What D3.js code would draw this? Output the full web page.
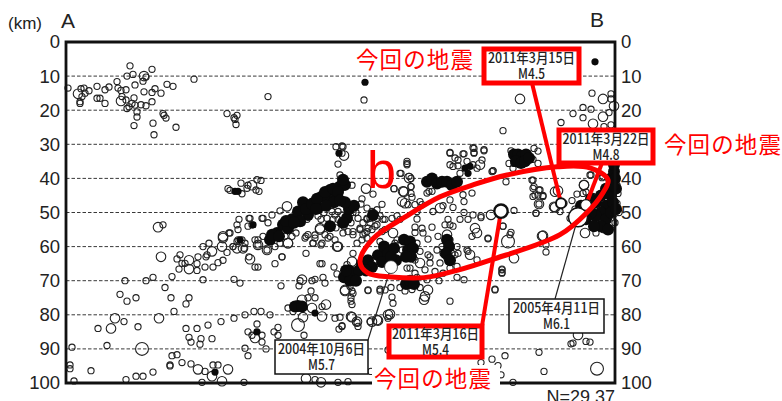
<!DOCTYPE html>
<html lang="ja">

<head>
    <meta charset="UTF-8">
    <script src='https://cdnjs.cloudflare.com/ajax/libs/d3/7.8.5/d3.min.js'></script>
    <title>Document</title>
    <style>
        html, body { margin: 0; padding: 0; background: #fff; overflow: hidden; }
        svg { display: block; }
        .tick text { font: 18.5px "Liberation Sans", sans-serif; fill: #222; }
    </style>
</head>

<body>
    <div id='plot'></div>
</body>

<script>
    // depth ticks (km)
    const depthTicks = [0, 10, 20, 30, 40, 50, 60, 70, 80, 90, 100];
    const gridDepths = [10, 20, 30, 40, 50, 60, 70, 80, 90];

    // [distance along A-B, depth km]
    const smallQuakes = [
        [2,13.5],[14,17.5],[15,13.7],[18,13.5],[16,16],[19,15],[14,18],[23,14.3],[31,16.5],[31,13],[34,16.5],[39,14],[43,13.2],[39,18],
        [51,11.6],[52,13.5],[55,14.2],[56,16],[60,17],[60,14],[61,10],[64,7],[67,9.5],[69,12.6],[68,16.4],[61,19.5],[63,19],[69,18.5],[66,18],[71,20.5],[71,22],[75,18.4],[77,11.5],[80,10.3],[78,14.6],[80,18.7],[86,17.5],[86,14.8],[89,13.7],[86,8],[95,15],[101,12.4],[107,13],[87,23.8],[88,27.2],[68,24.5],[110,25],[97,21],[98,21.5],[100,22.3],
        [128,10.9],[161,21],[168,22.2],[169,22.7],[170,24.2],[171,21.5],[202,16],[298,17],
        [97,53.6],[111,63.6],[114,62.4],[116,64.9],[119,64.9],[113,66.6],[131,65],[132,63],[131,67],[137,60],[143,59],[140,63],[141,62.4],[139,66],[147,66],[152,64.7],[157,64],[161,61.7],[163,56],[167,60],[171,53.6],[172,55],[183,51.7],[182,54],[172,58],[176,58],[179,59],[189,66],[192,66],[189,58],[186,53.6],[197,51.7],[202,53],[209,65],[216,63],[240,62],[240,57],[249,56.6],[247,59],[255,59.5],[262,57.5],[268,66],[271,68],[254,65],[256,65],[249,69.6],[257,69],[259,70.7],[246,70],[234,70],[233,71.5],[215,71.5],[174,70.7],[168,69.6],[137,69.7],[106,68.8],[99,72],[87,69],[80,70],[59,70],[54,74],[61,76],[70,75],[105,75],[123,75],[120,76.8],[108,79],[58,82],[32,84],[72,83.5],[120,84],[131,84],[142,83],[155,82],[168,81],[179,80],[188,79],[195,79],[204,80],[41,89],[6,89.5],[123,86.6],[125,88],[135,87],[134,88.6],[146,87],[106,92],[111,91.7],[116,94],[125,94.4],[104,95],[104,94.7],[87,96.8],[77,98],[70,98],[60,99],[25,96.4],[4,94.7],[4,95.8],[8,99.4],[179,89.8],[182,92],
        [191,82.7],[182,85],[186,86],[196,86],[196,88],[200,90],[212,83.7],[208,85],[212,86],[139,96.6],[147,94.7],[152,94.7],[136,99.8],[178,99.8],[249,99],[272,99.8],[282,99.6],[238,86],
        [222,78],[227,79],[242,75],[245,73],[249,75],[256,77.6],[269,81],[274,80.7],[291,82.2],[292,83.4],[276,83.2],[273,84.2],[302,72.9],[287,73.7],[285,75],[286,77],[285,76],[314,72.5],[284,71.7],[322,90.3],[305,96.6],
        [270,30.7],[276,30.5],[272,35.8],[274,39],[307,44.6],[296,46],[316,47.6],[286,42],
        [162,43],[164,43.5],[176,44.5],[175,41.4],[182,42],[191,40.4],[195,40.6],[190,43.4],[193,43.8],[181,42.9],
        [173,52],[164,56],[196,51.7],[184,51.7],[171,58.5],[178,60.5],[167,60],[192,58],[197,57],[206,50.7],[214,49.5],[242,56.5],[239,57.5],[216,63],[201,61],[192,59.5],[183,63],[256,59],[247,59],[264,57],[269,58],[259,56.5],[249,57.5],[277,56],[282,55.6],[287,55.6],[294,55],[297,56.5],[301,55.6],[302,54.6],[309,54],[317,52],[319,55],[284,47.8],[289,48],[301,48.7],[306,49.7],[311,49.2],[314,51],[301,51.7],[292,51.7],[297,53],[304,53],
        [266,49.7],[269,50.7],[272,49.7],[267,52],[272,52],[276,50.7],[261,51.7],[258,50],[255,52],[252,51],[262,54],[270,54.5],[278,54],[285,53],[290,50],[295,47.5],[241,52],[236,53],[230,56],[226,57],[219,57],[214,59],[209,60],
        [277,30.7],[276,32.6],[328,43],[335,38.5],[341,35],[341,36],[343,39.4],[345,42.4],[346,45.5],[342,47.7],[349,47.7],[354,46.8],[351,49.7],[356,47.7],[361,44.3],[363,43.8],[366,43.8],[351,51.9],[349,54.3],[349,55.9],[356,54.6],[357,56],[362,57.8],[366,54.3],[367,49.7],[377,48],[387,48.5],[384,46.3],[397,44.8],[398,46.8],[406,44.3],
        [384,32.6],[389,34],[397,32.8],[407,31],[408,32.6],[418,31.6],[384,36],[387,36.5],[392,34.6],[392,36.3],[394,38.5],[401,35],[407,36],[416,34.6],[411,37],[427,37.8],[398,50],[394,52],[402,52],[407,50.7],[415,51],[406,57],[422,57.7],[437,54],[444,56.5],[401,61],[387,54],[382,52],[379,53.6],[384,53.6],[384,58],[376,60],[372,57],[377,62],[386,62],[391,60],[392,62],[371,61],[364,63],
        [287,50],[304,51.7],[311,51.7],[301,52],[319,52],[326,51.7],[331,51],[334,52],[294,54.6],[299,56],[306,55],[311,53.6],[287,56.5],[296,58],[301,57.5],[291,59],[316,55.6],[331,58],[329,59],[314,58.5],[351,59],[354,61.4],[362,62.4],[336,61],
        [287,62],[281,65.3],[286,73],[302,72.7],[314,73],[319,72.7],[325,72],[334,72],[326,74.8],[327,76.6],[304,82],[341,66.3],[349,67.8],[346,72.6],[339,73],[354,72],[384,76],[391,69],[398,69.7],[373,70],[351,69],[361,69.7],[429,72.7],[436,66.8],[436,67.8],[322,81],[276,83.4],
        [364,64.8],[344,66.3],[359,66.8],[349,63.9],[374,64.8],[381,63.4],[389,62.4],[402,61.4],[411,63.9],[377,67.8],[369,67.3],[384,66.3],[391,65.8],
        [448,49.4],[470,50.2],[473,47.5],[498,47.3],[437,54],[445,55.8],[422,57.5],[436,66.6],[436,67.6],[429,72.5],[480,59.5],[480,61.6],[415,51.5],[439,92],[426,93],[432,94.9],[473,91],[478,96.6],[505,88.5],[507,88.3],[520,87.8],[524,88],[447,99.8],[435,97.6],[415,94],
        [526,15],[545,15.2],[545,16.7],[517,19.2],[525,19.7],[507,21],[517,22.2],[543,20.7],[495,23.6],[437,26],[538,24.8],[545,24.3],[547,26.8],
        [445,31.9],[468,31.2],[472,32],[448,35.6],[443,35.6],[447,37],[472,35.6],[467,34.4],[408,31.2],[408,32.4],[418,31.9],[384,32.4],[398,32.8],[427,37.7],[440,41],[525,39],[537,39.5],[473,43.4],[468,42.4],[467,40.5],[467,45.3],[477,45.3],[472,44.9],[341,35.6],[345,40],[334,38.5],[328,43],[345,42.4],[345,44.4],
        [426,38],[466,40.5],[467,42.9],[474,43.4],[469,44.9],[477,45],[494,49.7],[470,50.2],[506,46.5],[511,44.6],[524,39],[536,39.8],[517,44.4],[531,53.6],[539,53.6],[524,52],
        [509,49],[504,51.7],[527,45.3],[534,44.9],[541,45.8],[547,44.4],[551,47.3],[549,50.2],[541,52],[532,52],[527,49.7],[552,44.4],[515,53],[520,44],[537,55],[544,55],[549,53],[530,56],[553,50],[551,42]
    ];
    const midQuakes = [
        [12,15.2],[55,17.3],[78,10],[92,54.3],[95,63],[123,64],[123,66.6],[146,61.4],[156,60],[157,57],[177,60.5],[171,60.5],[184,63.7],[192,59.5],[201,61],[222,59],[254,55],[272,60],[236,69.7],[49,81],[93,81],[45,84],[189,86.8],[132,96],[162,96],[146,98],[156,99.5],[240,98.7],[255,99.8],[236,75.6],[246,78],[256,80.5],[260,77],[237,80.7],[285,80.5],[306,82],[312,81.7],[279,73],[322,80],
        [278,33.3],[300,43],[186,42],[157,57.5],[221,48.2],[254,54.6],[222,59],[271,60],[343,39.9],[337,43.8],[336,46.8],[339,47.3],[374,48.7],[414,36],[409,54.6],[411,56],[381,56.5],[327,56],
        [286,64.4],[279,72.7],[324,79.8],[311,81.5],[286,80.7],[291,82],[362,72.7],[358,75.6],[359,74.6],[354,64.8],[404,62.4],[488,48.3],[448,63.4],[477,56.8],[425,50.7],[512,85.9],
        [454,16.7],[537,16.7],[548,18.8],[537,21.9],[527,24],[518,42],[492,43.6],[338,43.9],[473,47.5],[489,43.9],[489,48.5],[476,56.9],[518,41.9],[519,56],[546,53]
    ];
    const largeQuakes = [[76,90],[232,83],[442,58.5],[531,95.8]];
    // overlapped points that print solid black
    const denseQuakes = [
        [204,58],[211,56],[217,53.6],[226,52],[232,49.7],[241,48.7],[247,47.3],[256,45.3],[264,43.4],[274,42.4],[279,41.9],[271,44.8],[262,46.3],[252,48.7],[242,50.7],[234,52.6],[222,54.6],[277,40.4],
        [206,56.5],[213,57],[220,52.5],[228,53],[237,47],[240,49],[246,47.5],[251,46],[259,44],[267,43],[272,44],[268,47],[260,48],[250,49],
        [264,54],[281,51.6],[283,49],[277,53],[288,48],[307,50.7],[279,47],[274,46.5],
        [361,41],[366,40],[371,41.5],[376,41],[381,41],[386,42],[391,41],
        [448,33],[452,33],[456,33.5],[460,33],[450,35],[455,35.5],[459,35],[463,34],
        [520,48],[525,46],[530,47],[535,45],[540,43],[545,40],[548,38],[545,45],[540,48],[535,50],[530,51],[525,50],[540,52],[545,50],[547,47],[535,54],[548,36],[516,51],[515,48],[520,52],[528,54],[542,55],[550,49],[550,43],[549,40],[547,42],
        [312,62.5],[318,60],[322,62],[328,60.5],[330,64],[316,64.5],[325,63],
        [338,58],[344,58.5],[342,61],[347,60.5],[345,63],[340,63],
        [296,65],[302,64],[306,66],[300,67],
        [278,69],[283,67],[288,68],[293,67],[284,70],[290,70],[280,67],
        [340,71],[344,70],[348,71],[381,58],[383,60],[380,62],[384,64],
        [232,77.4],[229,77.6],[236,77.6]
    ];
    const tightQuakes = [
        [249,79.5],[191,85],[149,96.8],[169,43.8],[172,43.8],[187,53.6],[174,58],[273,32.6],[529,5.8],[299,11.8],[399,37],[404,36.5],[402,38.5]
    ];

    // events that were called out: [distance, depth, magnitude]
    const event0315 = [495, 47.3, 4.5];
    const event0316 = [435, 49.6, 5.4];
    const event0322 = [520, 47.8, 4.8];
    const event2004 = [325, 66, 5.7];
    const event2005 = [512, 51.4, 6.1];

    const ellipsePoints = [
        [294,64.5],[307,57.7],[341,51],[374,45.4],[407,41.9],[441,39],[491,36.6],[524,36.9],[542,40.4],[537,44.2],[521,50],[494,56.5],[425,63.9],[392,66.9],[358,69.1],[325,68.9],[302,67.8]
    ];

    const redText = "今回の地震";
    const redLabels = [[356, 68], [664, 153], [374, 387]];
    const redBoxes = [
        { x: 484, y: 49, w: 95, h: 34, t: "2011年3月15日", m: "M4.5" },
        { x: 559, y: 130, w: 94, h: 33, t: "2011年3月22日", m: "M4.8" },
        { x: 389, y: 326, w: 93, h: 31, t: "2011年3月16日", m: "M5.4" }
    ];
    const blackBoxes = [
        { x: 275, y: 340, w: 93, h: 34, t: "2004年10月6日", m: "M5.7" },
        { x: 509, y: 299, w: 95, h: 34, t: "2005年4月11日", m: "M6.1" }
    ];

    var margin = { top: 42, right: 167, bottom: 18, left: 66 },
        W = 782,
        H = 401,
        width = W - margin.left - margin.right,
        height = H - margin.top - margin.bottom;

    var svg = d3.select("#plot").append("svg")
        .attr("width", W)
        .attr("height", H);

    var x = d3.scaleLinear().domain([0, 549]).range([margin.left, margin.left + width]);
    var y = d3.scaleLinear().domain([0, 100]).range([margin.top, margin.top + height]);
    var r = d3.scaleLinear().domain([2.5, 6.1]).range([3.1, 9.8]);

    // (1) grid____________________________________
    svg.append("g").selectAll("line")
        .data(gridDepths)
        .enter().append("line")
        .attr("x1", x(0)).attr("x2", x(549))
        .attr("y1", d => y(d)).attr("y2", d => y(d))
        .attr("stroke", "#222")
        .attr("stroke-width", 0.9)
        .attr("stroke-dasharray", "3.5,2");

    // (2) dots____________________________________
    function rings(data, mag, sw) {
        svg.append("g").selectAll("circle")
            .data(data)
            .enter().append("circle")
            .attr("cx", d => x(d[0]))
            .attr("cy", d => y(d[1]))
            .attr("r", r(mag))
            .attr("fill", "none")
            .attr("stroke", "#222")
            .attr("stroke-width", sw);
    }
    rings(smallQuakes, 2.5, 1.1);
    rings(midQuakes, 3.4, 1.1);
    rings(largeQuakes, 4.3, 1.1);

    function solids(data, radius) {
        svg.append("g").selectAll("circle")
            .data(data)
            .enter().append("circle")
            .attr("cx", d => x(d[0]))
            .attr("cy", d => y(d[1]))
            .attr("r", radius)
            .attr("fill", "#0a0a0a");
    }
    solids(denseQuakes, 6);
    solids(tightQuakes, 3.6);

    // (3) frame and axes__________________________
    var frame = d3.path();
    frame.moveTo(x(0), y(100));
    frame.lineTo(x(0), y(0));
    frame.lineTo(x(549), y(0));
    frame.lineTo(x(549), y(100));
    frame.closePath();
    svg.append("path")
        .attr("d", frame.toString())
        .attr("fill", "none")
        .attr("stroke", "#111")
        .attr("stroke-width", 2.8);

    var left = svg.append("g")
        .attr("transform", "translate(" + (margin.left - 6) + ",0)")
        .call(d3.axisLeft(y).tickValues(depthTicks).tickSize(0).tickPadding(0));
    left.select(".domain").remove();

    var right = svg.append("g")
        .attr("transform", "translate(" + (margin.left + width + 6) + ",0)")
        .call(d3.axisRight(y).tickValues(depthTicks).tickSize(0).tickPadding(0));
    right.select(".domain").remove();

    function label(txt, px, py, size, anchor) {
        return svg.append("text")
            .attr("x", px).attr("y", py)
            .attr("text-anchor", anchor || "start")
            .attr("fill", "#222")
            .style("font", size + 'px "Liberation Sans", sans-serif')
            .text(txt);
    }
    label("(km)", 8, 29, 17);
    label("A", 61, 28, 21);
    label("B", 590, 27, 21);
    label("N=29.37", 615, 403, 18, "end");

    // (4) call-outs_______________________________
    function pointer(px, py, e, color, sw) {
        svg.append("line")
            .attr("x1", px).attr("y1", py)
            .attr("x2", x(e[0])).attr("y2", y(e[1]))
            .attr("stroke", color)
            .attr("stroke-width", sw);
    }
    pointer(368, 340, event2004, "#222", 1.2);
    pointer(555, 299, event2005, "#222", 1.2);
    pointer(532, 83, event0315, "#f00", 4);
    pointer(602, 163, event0322, "#f00", 4);
    pointer(482, 326, event0316, "#f00", 4);

    function keyEvent(e, sw, shrink) {
        svg.append("circle")
            .attr("cx", x(e[0])).attr("cy", y(e[1]))
            .attr("r", r(e[2]) - shrink)
            .attr("fill", "#fff")
            .attr("stroke", "#111")
            .attr("stroke-width", sw);
    }
    keyEvent(event2005, 1.6, 0.3);
    keyEvent(event2004, 0.8, 2.6);
    keyEvent(event0315, 2, 1.8);
    keyEvent(event0322, 1.2, 2);
    keyEvent(event0316, 2.4, 1.8);

    svg.append("path")
        .attr("d", d3.line().x(d => x(d[0])).y(d => y(d[1])).curve(d3.curveCatmullRomClosed.alpha(0.5))(ellipsePoints))
        .attr("fill", "none")
        .attr("stroke", "#f00")
        .attr("stroke-width", 5);

    // white patch under the bottom red label
    svg.append("rect")
        .attr("x", 372).attr("y", 365).attr("width", 128).attr("height", 28)
        .attr("fill", "#fff");

    redBoxes.forEach(b => box(b, "#f00", 5));
    blackBoxes.forEach(b => box(b, "#111", 1.5));

    function box(b, color, sw) {
        svg.append("rect")
            .attr("x", b.x).attr("y", b.y).attr("width", b.w).attr("height", b.h)
            .attr("fill", "#fff")
            .attr("stroke", color)
            .attr("stroke-width", sw);
        var cx = b.x + b.w / 2;
        [[b.t, b.y + b.h / 2 - 3, 87], [b.m, b.y + b.h / 2 + 13, 27]].forEach(t => {
            svg.append("text")
                .attr("x", cx).attr("y", t[1])
                .attr("text-anchor", "middle")
                .attr("textLength", t[2])
                .attr("lengthAdjust", "spacingAndGlyphs")
                .attr("fill", "#222")
                .style("font", '500 14px "Noto Sans CJK JP", sans-serif')
                .text(t[0]);
        });
    }

    redLabels.forEach(p => {
        svg.append("text")
            .attr("x", p[0]).attr("y", p[1])
            .attr("textLength", 117)
            .attr("fill", "#f00")
            .style("font", '22.5px "Noto Sans CJK JP", sans-serif')
            .text(redText);
    });

    svg.append("text")
        .attr("x", 367).attr("y", 188)
        .attr("fill", "#f00")
        .style("font", '52px "Liberation Sans", sans-serif')
        .text("b");
</script>

</html>
